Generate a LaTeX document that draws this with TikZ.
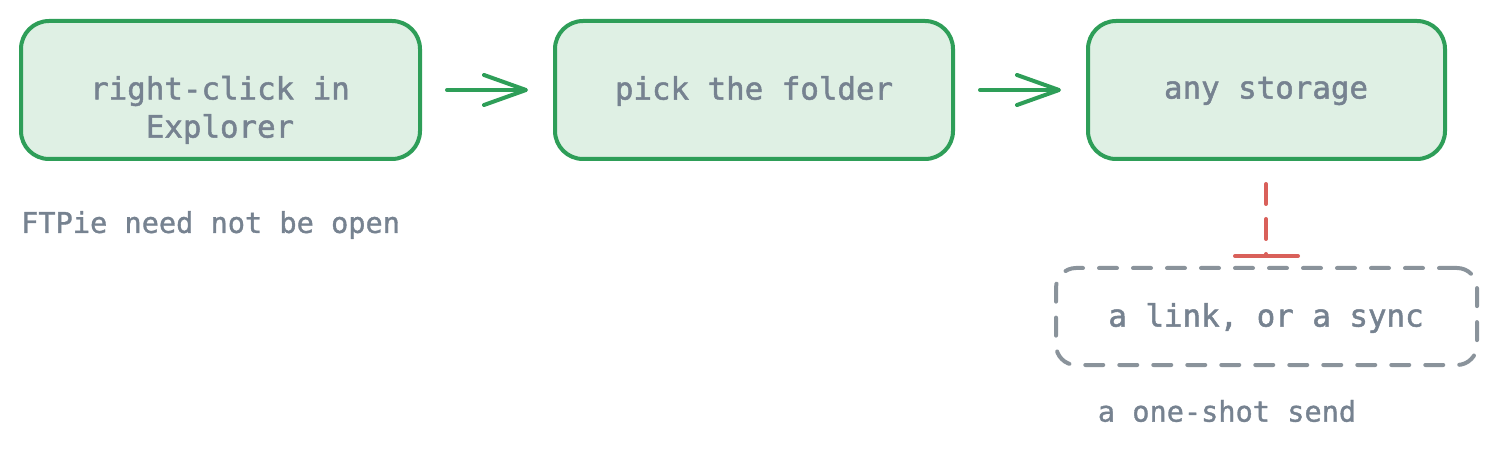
\documentclass[tikz,border=0pt]{standalone}
\usepackage{fontspec}
\setmonofont{DejaVu Sans Mono}
\newfontfamily\boxfont{DejaVu Sans Mono}[FakeBold=1.6]
\newfontfamily\lblfont{DejaVu Sans Mono}[FakeBold=1.2]
\usetikzlibrary{arrows.meta}
\definecolor{boxfill}{HTML}{DFF0E4}
\definecolor{boxline}{HTML}{2E9E58}
\definecolor{txt}{HTML}{768290}
\definecolor{redline}{HTML}{D9605A}
\definecolor{dashgray}{HTML}{8A939B}
\tikzset{
  stepbox/.style={draw=boxline, fill=boxfill, line width=4pt, rounded corners=28pt, inner sep=0pt},
  boxtext/.style={text=txt, font=\boxfont\fontsize{30.8}{38}\selectfont, inner sep=0pt, anchor=center},
  labeltext/.style={text=txt, font=\lblfont\fontsize{28.6}{34}\selectfont, inner sep=0pt},
  flow/.style={draw=boxline, line width=4pt, line cap=round, -{Straight Barb[length=42pt,width=30pt,line cap=round,line join=round]}, shorten <=25pt, shorten >=25pt},
  tee/.style={draw=redline, line width=4pt, line cap=round, dash pattern=on 20pt off 15pt},
  teebar/.style={draw=redline, line width=4pt, line cap=round},
  dashbox/.style={draw=dashgray, line width=4pt, line cap=round, dash pattern=on 18pt off 16pt, rounded corners=20pt, inner sep=0pt}
}
\begin{document}
\begin{tikzpicture}[x=1pt,y=-1pt]
\useasboundingbox (0,0) rectangle (1497,449);
% boxes
\node[stepbox, minimum width=399pt, minimum height=138pt] (b1) at (220.5,90) {};
\node[stepbox, minimum width=398pt, minimum height=138pt] (b2) at (754,90) {};
\node[stepbox, minimum width=357pt, minimum height=138pt] (b3) at (1266.5,90) {};
\node[boxtext] (t1a) at (220,91) {right-click in};
\node[boxtext] (t1b) at (220,129) {Explorer};
\node[boxtext] (t2) at (754,91) {pick the folder};
\node[boxtext] (t3) at (1266,91) {any storage};
% arrows
\draw[flow] (b1.east) -- (b2.west);
\draw[flow] (b2.east) -- (b3.west);
% dashed box
\node[dashbox, minimum width=421pt, minimum height=97pt] (d) at (1266.5,316.5) {};
\node[boxtext] (dt) at (1266,318) {a link, or a sync};
% tee connector
\coordinate (teestart) at (1266,184);
\coordinate (teeend) at (1266,256);
\coordinate (teeL) at (1235,256);
\coordinate (teeR) at (1298,256);
\draw[tee] (teestart) -- (teeend);
\draw[teebar] (teeL) -- (teeR);
% labels
\node[labeltext, anchor=west] (l1) at (21,225) {FTPie need not be open};
\node[labeltext] (l2) at (1227,411) {a one-shot send};
\end{tikzpicture}
\end{document}
